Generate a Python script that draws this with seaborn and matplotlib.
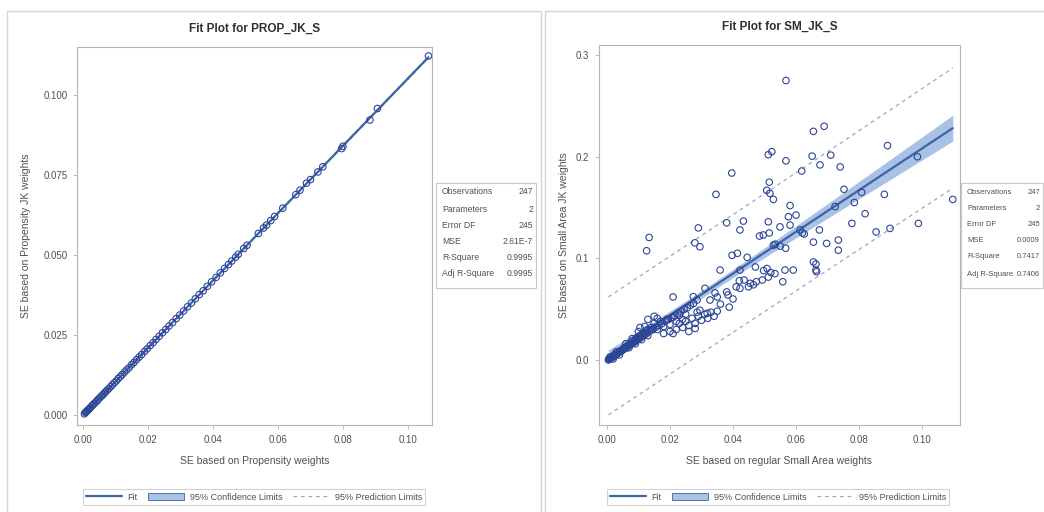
import numpy as np
import pandas as pd
import matplotlib
matplotlib.use('Agg')
import matplotlib.pyplot as plt
from matplotlib.lines import Line2D
from matplotlib.patches import Patch, Rectangle
import seaborn as sns

# ── Data ──────────────────────────────────────
prop_x = [0.0005, 0.0008, 0.0010, 0.0012, 0.0015, 0.0018, 0.0020, 0.0024, 0.0028, 0.0031,
          0.0035, 0.0040, 0.0044, 0.0048, 0.0052, 0.0057, 0.0061, 0.0066, 0.0070, 0.0075,
          0.0080, 0.0086, 0.0091, 0.0097, 0.0103, 0.0109, 0.0115, 0.0121, 0.0128, 0.0135,
          0.0142, 0.0150, 0.0157, 0.0165, 0.0173, 0.0181, 0.0190, 0.0198, 0.0207, 0.0216,
          0.0225, 0.0235, 0.0245, 0.0255, 0.0265, 0.0276, 0.0287, 0.0298, 0.0310, 0.0322,
          0.0334, 0.0346, 0.0358, 0.0370, 0.0383, 0.0396, 0.0410, 0.0423, 0.0436, 0.0448,
          0.0458, 0.0470, 0.0478, 0.0495, 0.0505, 0.0540, 0.0556, 0.0565, 0.0578, 0.0590,
          0.0615, 0.0655, 0.0668, 0.0688, 0.0700, 0.0723, 0.0738, 0.0796, 0.0800, 0.0883,
          0.0906, 0.1063]
prop_y = [0.0005, 0.0009, 0.0011, 0.0012, 0.0016, 0.0019, 0.0021, 0.0025, 0.0030, 0.0033,
          0.0037, 0.0042, 0.0046, 0.0051, 0.0055, 0.0060, 0.0064, 0.0069, 0.0074, 0.0079,
          0.0084, 0.0090, 0.0096, 0.0102, 0.0108, 0.0115, 0.0121, 0.0127, 0.0135, 0.0142,
          0.0149, 0.0158, 0.0165, 0.0174, 0.0182, 0.0190, 0.0200, 0.0208, 0.0218, 0.0227,
          0.0237, 0.0247, 0.0258, 0.0268, 0.0279, 0.0290, 0.0302, 0.0313, 0.0326, 0.0339,
          0.0351, 0.0364, 0.0377, 0.0389, 0.0403, 0.0417, 0.0431, 0.0445, 0.0459, 0.0471,
          0.0482, 0.0494, 0.0503, 0.0521, 0.0531, 0.0568, 0.0585, 0.0594, 0.0608, 0.0621,
          0.0647, 0.0689, 0.0703, 0.0725, 0.0736, 0.0760, 0.0776, 0.0833, 0.0840, 0.0922,
          0.0958, 0.1122]

sm_x = [0.0005, 0.0010, 0.0012, 0.0015, 0.0020, 0.0022, 0.0025, 0.0030, 0.0032, 0.0035,
        0.0040, 0.0042, 0.0045, 0.0050, 0.0052, 0.0055, 0.0060, 0.0062, 0.0065, 0.0070,
        0.0072, 0.0075, 0.0080, 0.0082, 0.0085, 0.0090, 0.0092, 0.0095, 0.0100, 0.0105,
        0.0110, 0.0115, 0.0120, 0.0125, 0.0130, 0.0010, 0.0020, 0.0030, 0.0040, 0.0060,
        0.0070, 0.0080, 0.0090, 0.0100, 0.0110, 0.0120, 0.0130,
        0.0006, 0.0008, 0.0011, 0.0013, 0.0017, 0.0019, 0.0023, 0.0027, 0.0029, 0.0033,
        0.0037, 0.0039, 0.0043, 0.0047, 0.0049, 0.0053, 0.0057, 0.0059, 0.0063, 0.0067,
        0.0069, 0.0073, 0.0077, 0.0079, 0.0083, 0.0087, 0.0089, 0.0093, 0.0097, 0.0099,
        0.0103, 0.0108, 0.0113, 0.0118, 0.0123, 0.0128,
        0.0135, 0.0140, 0.0145, 0.0155, 0.0165, 0.0175, 0.0185, 0.0195, 0.0205, 0.0215,
        0.0225, 0.0235, 0.0245, 0.0255, 0.0265, 0.0275,
        0.0140, 0.0150, 0.0160, 0.0170, 0.0180, 0.0190, 0.0200, 0.0210, 0.0220, 0.0220,
        0.0230, 0.0230, 0.0240, 0.0240, 0.0250, 0.0250, 0.0260, 0.0270, 0.0280, 0.0290,
        0.0300, 0.0310, 0.0320, 0.0330, 0.0340, 0.0350, 0.0150, 0.0160, 0.0130, 0.0180,
        0.0200, 0.0210, 0.0260, 0.0280, 0.0105, 0.0146,
        0.0210, 0.0274, 0.0286, 0.0311, 0.0327, 0.0343, 0.0350, 0.0359, 0.0380, 0.0384,
        0.0388, 0.0295, 0.0318, 0.0286, 0.0400, 0.0410, 0.0360, 0.0420, 0.0435, 0.0422,
        0.0414, 0.0445, 0.0397,
        0.0422, 0.0449, 0.0455, 0.0465, 0.0474, 0.0493, 0.0512, 0.0520, 0.0497, 0.0508,
        0.0471, 0.0533, 0.0558, 0.0565, 0.0591, 0.0663, 0.0663, 0.0665, 0.0655,
        0.0528, 0.0550, 0.0567, 0.0534, 0.0484, 0.0496, 0.0515, 0.0422, 0.0549, 0.0581,
        0.0613, 0.0620, 0.0626, 0.0674, 0.0655, 0.0697, 0.0734, 0.0734, 0.0512, 0.0433,
        0.0380, 0.0290, 0.0279, 0.0295, 0.0134, 0.0126,
        0.0576, 0.0600, 0.0581, 0.0724, 0.0819, 0.0752, 0.0808, 0.0785, 0.0880, 0.1097,
        0.0777, 0.0854, 0.0898, 0.0988, 0.0507, 0.0517, 0.0528, 0.0346, 0.0515, 0.0396,
        0.0618, 0.0740, 0.0676, 0.0568, 0.0651, 0.0710, 0.0985, 0.0512, 0.0523, 0.0890,
        0.0655, 0.0689, 0.0568]
sm_y = [0.0000, 0.0010, 0.0020, 0.0020, 0.0030, 0.0040, 0.0050, 0.0050, 0.0060, 0.0070,
        0.0080, 0.0090, 0.0090, 0.0100, 0.0110, 0.0120, 0.0120, 0.0130, 0.0140, 0.0150,
        0.0160, 0.0160, 0.0170, 0.0190, 0.0180, 0.0200, 0.0210, 0.0220, 0.0220, 0.0240,
        0.0250, 0.0260, 0.0270, 0.0290, 0.0300, 0.0030, 0.0010, 0.0080, 0.0050, 0.0160,
        0.0120, 0.0210, 0.0160, 0.0280, 0.0200, 0.0330, 0.0240,
        0.0010, 0.0012, 0.0018, 0.0022, 0.0031, 0.0035, 0.0043, 0.0052, 0.0055, 0.0064,
        0.0072, 0.0076, 0.0085, 0.0094, 0.0097, 0.0106, 0.0114, 0.0118, 0.0127, 0.0135,
        0.0139, 0.0148, 0.0156, 0.0160, 0.0169, 0.0177, 0.0181, 0.0190, 0.0198, 0.0202,
        0.0211, 0.0222, 0.0233, 0.0244, 0.0255, 0.0266,
        0.0285, 0.0295, 0.0302, 0.0322, 0.0340, 0.0358, 0.0380, 0.0398, 0.0418, 0.0436,
        0.0458, 0.0476, 0.0498, 0.0515, 0.0538, 0.0556,
        0.0320, 0.0360, 0.0300, 0.0380, 0.0330, 0.0400, 0.0350, 0.0420, 0.0380, 0.0300,
        0.0440, 0.0360, 0.0400, 0.0320, 0.0450, 0.0380, 0.0340, 0.0410, 0.0360, 0.0430,
        0.0390, 0.0450, 0.0410, 0.0470, 0.0430, 0.0480, 0.0430, 0.0410, 0.0400, 0.0260,
        0.0280, 0.0260, 0.0280, 0.0310, 0.0320, 0.0300,
        0.0620, 0.0623, 0.0590, 0.0705, 0.0590, 0.0660, 0.0620, 0.0885, 0.0670, 0.0640,
        0.0520, 0.0490, 0.0460, 0.0470, 0.0600, 0.0720, 0.0550, 0.0780, 0.0787, 0.0885,
        0.1050, 0.1010, 0.1030,
        0.0705, 0.0720, 0.0754, 0.0740, 0.0770, 0.0787, 0.0816, 0.0860, 0.0880, 0.0900,
        0.0915, 0.0850, 0.0770, 0.0885, 0.0885, 0.0944, 0.0885, 0.0868, 0.0965,
        0.1130, 0.1120, 0.1100, 0.1140, 0.1220, 0.1230, 0.1250, 0.1280, 0.1310, 0.1327,
        0.1280, 0.1250, 0.1240, 0.1280, 0.1160, 0.1147, 0.1180, 0.1080, 0.1360, 0.1367,
        0.1350, 0.1300, 0.1153, 0.1114, 0.1206, 0.1075,
        0.1410, 0.1426, 0.1520, 0.1510, 0.1440, 0.1680, 0.1650, 0.1550, 0.1630, 0.1580,
        0.1344, 0.1260, 0.1295, 0.1344, 0.1670, 0.1640, 0.1580, 0.1630, 0.1750, 0.1840,
        0.1860, 0.1900, 0.1920, 0.1960, 0.2006, 0.2016, 0.2000, 0.2020, 0.2050, 0.2110,
        0.2250, 0.2300, 0.2750]

stat_labels = ['Observations', 'Parameters', 'Error DF', 'MSE', 'R-Square', 'Adj R-Square']
prop_stats = ['247', '2', '245', '2.61E-7', '0.9995', '0.9995']
sm_stats = ['247', '2', '245', '0.0009', '0.7417', '0.7406']

# ── Style ─────────────────────────────────────
sns.set_theme(style='white')
plt.rcParams['font.family'] = ['Liberation Sans', 'DejaVu Sans']
MARK = '#2d4595'
FIT = '#3f63a8'
BAND = '#a8c2e6'
PRED = '#9aa6c2'
FRAME = '#b4b4b4'
TXT = '#505050'
T_CRIT = 1.9697


def fit_bands(x, y, grid):
    x = np.asarray(x)
    y = np.asarray(y)
    n = len(x)
    b1, b0 = np.polyfit(x, y, 1)
    res = y - (b0 + b1 * x)
    s2 = (res ** 2).sum() / (n - 2)
    sxx = ((x - x.mean()) ** 2).sum()
    yhat = b0 + b1 * grid
    se_m = np.sqrt(s2 * (1 / n + (grid - x.mean()) ** 2 / sxx))
    se_p = np.sqrt(s2 + se_m ** 2)
    return yhat, yhat - T_CRIT * se_m, yhat + T_CRIT * se_m, yhat - T_CRIT * se_p, yhat + T_CRIT * se_p


def fit_panel(ax, x, y, title, xlabel, ylabel, yticks, yfmt, xlim, ylim, ypad):
    grid = np.linspace(min(x), max(x), 200)
    yhat, clo, chi, plo, phi = fit_bands(x, y, grid)
    ax.fill_between(grid, clo, chi, color=BAND, lw=0, zorder=1)
    ax.plot(grid, yhat, color=FIT, lw=1.6, zorder=3)
    ax.plot(grid, plo, color=PRED, lw=0.9, ls=(0, (3, 3)), zorder=2)
    ax.plot(grid, phi, color=PRED, lw=0.9, ls=(0, (3, 3)), zorder=2)
    df = pd.DataFrame({'x': x, 'y': y})
    sns.scatterplot(data=df, x='x', y='y', ax=ax, marker='o', s=22,
                    facecolor='none', edgecolor=MARK, linewidth=0.8, zorder=4)
    ax.set_xlim(*xlim)
    ax.set_ylim(*ylim)
    ax.set_xticks([0, 0.02, 0.04, 0.06, 0.08, 0.10])
    ax.set_xticklabels(['0.00', '0.02', '0.04', '0.06', '0.08', '0.10'])
    ax.set_yticks(yticks)
    ax.set_yticklabels([yfmt % v for v in yticks])
    ax.tick_params(axis='both', which='both', length=3, width=0.6, color=FRAME,
                   labelsize=7, labelcolor=TXT, pad=4, direction='out',
                   bottom=True, left=True)
    for sp in ax.spines.values():
        sp.set_color(FRAME)
        sp.set_linewidth(0.8)
    ax.set_title(title, fontsize=8.5, fontweight='bold', color='#303030', pad=11)
    ax.set_xlabel(xlabel, fontsize=7.5, color=TXT, labelpad=8)
    ax.set_ylabel(ylabel, fontsize=7.5, color=TXT, labelpad=ypad)


def stat_box(fig, x0, labels, values, val_x, fsize):
    W, H = 1044, 512
    fig.add_artist(Rectangle((x0 / W, 1 - 288 / H), (val_x - x0 + 3) / W, 105 / H,
                             transform=fig.transFigure, fill=False, ec='#c8c8c8', lw=0.8))
    rows = [192, 209, 225, 241, 257, 274]
    for lab, val, yy in zip(labels, values, rows):
        fig.text((x0 + 6) / W, 1 - yy / H, lab, fontsize=fsize, color=TXT, va='center')
        fig.text(val_x / W, 1 - yy / H, val, fontsize=fsize, color=TXT, va='center', ha='right')


fig = plt.figure(figsize=(10.44, 5.12), dpi=100)
W, H = 1044, 512

# panel frames
fig.add_artist(Rectangle((7 / W, -0.01), 534 / W, 1 - 11 / H + 0.01,
                         transform=fig.transFigure, fill=False, ec='#d4d4d4', lw=1))
fig.add_artist(Rectangle((545 / W, -0.01), 520 / W, 1 - 11 / H + 0.01,
                         transform=fig.transFigure, fill=False, ec='#d4d4d4', lw=1))

ax1 = fig.add_axes([77 / W, 1 - 425 / H, 355 / W, 378 / H])
fit_panel(ax1, prop_x, prop_y, 'Fit Plot for PROP_JK_S',
          'SE based on Propensity weights', 'SE based on Propensity JK weights',
          [0, 0.025, 0.05, 0.075, 0.1], '%.3f', (-0.0018, 0.1074), (-0.003, 0.115), 9)

ax2 = fig.add_axes([599 / W, 1 - 425 / H, 361 / W, 380 / H])
fit_panel(ax2, sm_x, sm_y, 'Fit Plot for SM_JK_S',
          'SE based on regular Small Area weights', 'SE based on Small Area JK weights',
          [0, 0.1, 0.2, 0.3], '%.1f', (-0.0025, 0.112), (-0.064, 0.31), 5)

stat_box(fig, 436, stat_labels, prop_stats, 533, 6.2)
stat_box(fig, 961, stat_labels, sm_stats, 1040, 5.5)

# legends
handles = [Line2D([], [], color=FIT, lw=1.6),
           Patch(facecolor=BAND, edgecolor=FIT, lw=0.6),
           Line2D([], [], color=PRED, lw=0.9, ls=(0, (3, 3)))]
labels = ['Fit', '95% Confidence Limits', '95% Prediction Limits']
for cx in (254 / W, 778 / W):
    leg = fig.legend(handles, labels, loc='center', bbox_to_anchor=(cx, 1 - 497 / H),
                     ncol=3, fontsize=6.5, frameon=True, fancybox=False,
                     handlelength=4, handletextpad=0.6, columnspacing=1.2,
                     borderpad=0.35, labelcolor=TXT)
    leg.get_frame().set_edgecolor('#c8c8c8')
    leg.get_frame().set_linewidth(0.8)

plt.savefig('out.png', dpi=100)
plt.close()
